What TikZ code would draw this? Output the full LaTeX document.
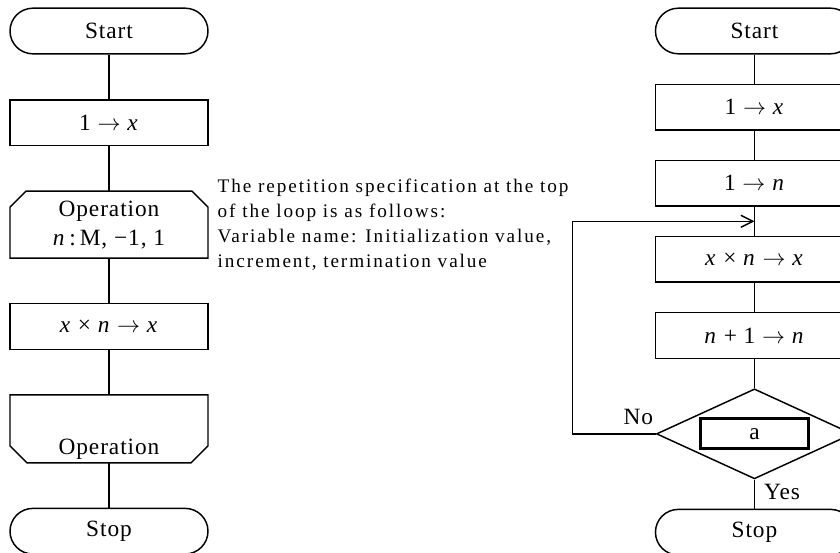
\documentclass[tikz,border=0pt]{standalone}
\usepackage{fontspec}
\setmainfont{Liberation Serif}[LetterSpace=4]
\newfontfamily\notefont{Liberation Serif}[LetterSpace=10]
\usetikzlibrary{shapes.geometric, positioning, calc, arrows.meta}
\newcommand{\asgn}{$\rightarrow$}
\tikzset{
>={Straight Barb[length=9pt,width=9pt]}, % open arrow head as in the chart
every node/.style={font=\fontsize{17.5}{21.75}\selectfont}, % text size of the chart symbols
terminal/.style={draw, rounded corners=17.1pt, minimum width=148.5pt, minimum height=34.2pt}, % start and stop
process/.style={draw, minimum width=148.5pt, minimum height=34.2pt}, % assignment boxes
loopbox/.style={align=center, inner sep=0pt, outer sep=0pt, minimum width=148.5pt}, % loop limit, outline drawn by hand
decision/.style={draw, diamond, inner sep=0pt, minimum width=147pt, minimum height=67.5pt}, % the test
cond/.style={draw, line width=2.2pt, minimum width=81pt, minimum height=22.5pt}, % blank to fill in
note/.style={align=left, inner sep=0pt, font=\notefont\fontsize{14.4}{18.75}\selectfont}, % explanation text
}

\begin{document}
\begin{tikzpicture}[line width=1.1pt, node distance=33.6pt]
  \clip (-81.75pt,23.25pt) rectangle (548.25pt,-391.5pt);
  % flowchart with loop limit symbols
  \node[terminal] (start1) {Start};
  \node[process, below=of start1] (x1) {1 \asgn\ \textit{x}};
  \node[loopbox, below=of x1, minimum height=50.25pt] (loopa) {Operation\\\textit{n}\,:\,M, −1, 1};
  \node[process, below=of loopa] (mul1) {\textit{x} × \textit{n} \asgn\ \textit{x}};
  \node[loopbox, below=of mul1, minimum height=51pt] (loopb) {};
  \node[anchor=base] (loopbtext) at ([yshift=6pt]loopb.south) {Operation};
  \node[terminal, below=of loopb] (stop1) {Stop};
  \draw (loopa.south west) -- ([yshift=-12pt]loopa.north west) -- ([xshift=12pt]loopa.north west)
    -- ([xshift=-12pt]loopa.north east) -- ([yshift=-12pt]loopa.north east) -- (loopa.south east) -- cycle;
  \draw (loopb.north west) -- ([yshift=12.75pt]loopb.south west) -- ([xshift=12.75pt]loopb.south west)
    -- ([xshift=-12.75pt]loopb.south east) -- ([yshift=12.75pt]loopb.south east) -- (loopb.north east) -- cycle;
  \draw (start1) -- (x1) -- (loopa) -- (mul1) -- (loopb) -- (stop1);

  \node[note, right=6.75pt of loopa] (note) {The repetition specification at the top\\of the loop is as follows:\\Variable name: Initialization value,\\increment, termination value};

  % flowchart with a decision
  \node[terminal, right=334.5pt of start1] (start2) {Start};
  \node[process, below=21.8pt of start2] (x2) {1 \asgn\ \textit{x}};
  \node[process, below=21.8pt of x2] (n2) {1 \asgn\ \textit{n}};
  \node[process, below=21.8pt of n2] (mul2) {\textit{x} × \textit{n} \asgn\ \textit{x}};
  \node[process, below=21.8pt of mul2] (inc2) {\textit{n} + 1 \asgn\ \textit{n}};
  \node[decision, below=21.8pt of inc2] (dec) {};
  \node[cond] (cond) at (dec) {a};
  \node[terminal, below=21.8pt of dec] (stop2) {Stop};
  \coordinate (join) at ($(n2.south)!0.5!(mul2.north)$);
  \draw (start2) -- (x2) -- (n2) -- (mul2) -- (inc2) -- (dec) -- (stop2);
  \draw[->] (dec.west) -- ++(-62.25pt,0) |- (join);
  \node[anchor=south east, inner sep=0pt] (no) at ([shift={(-1.5pt,6pt)}]dec.west) {No};
  \node[anchor=north west, inner sep=0pt] (yes) at ([shift={(6.75pt,-3pt)}]dec.south) {Yes};
\end{tikzpicture}
\end{document}
